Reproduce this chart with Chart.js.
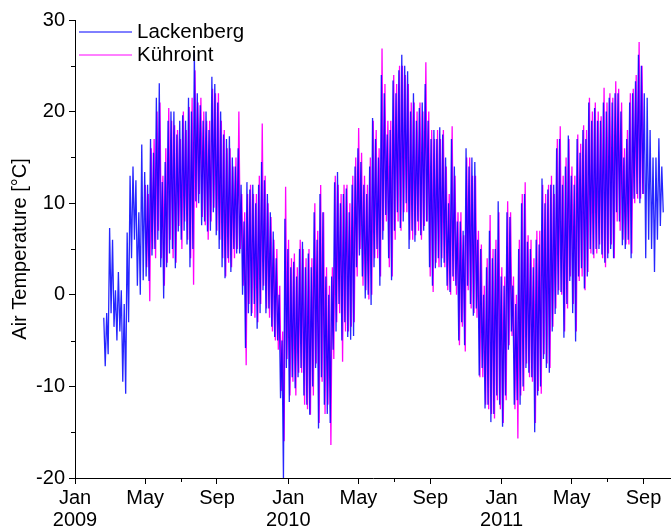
<!DOCTYPE html>
<html>
<head>
<meta charset="utf-8">
<script src="https://cdn.jsdelivr.net/npm/chart.js@4.4.1/dist/chart.umd.min.js"></script>
<style>
  html, body { margin: 0; padding: 0; background: #fff; }
  #wrap { width: 671px; height: 529px; position: relative; }
</style>
</head>
<body>
<div id="wrap"><canvas id="c" width="671" height="529"></canvas></div>
<script>
// Air temperature at two stations, 5-day highs and lows (°C)
const seriesNames = ['Lackenberg', 'Kühroint'];
const pentadLength = 5; // days per high/low pair

const lackenbergStart = '2009-02-18';
const lackenbergHigh = [
  -2.5, -2.0, 7.3, 6.0, 0.5, 2.5, 0.5, -1.0, 6.8, 13.0,
  14.0, 12.5, 9.0, 16.4, 13.4, 12.0, 17.0, 15.5, 21.5, 23.1,
  12.3, 14.5, 19.0, 20.0, 20.0, 17.5, 19.0, 19.6, 19.0, 21.5,
  20.0, 26.5, 22.0, 20.7, 19.0, 20.0, 18.0, 23.8, 23.0, 21.0,
  20.0, 17.5, 17.0, 17.3, 15.0, 14.0, 16.0, 12.0, 8.0, 12.3,
  11.5, 12.0, 10.0, 12.0, 14.5, 12.5, 11.0, 9.0, 6.9, 4.0,
  0.0, -5.0, 8.3, 5.0, 3.0, 3.6, 2.0, 5.0, 5.8, 3.0,
  4.5, 3.0, 9.0, 6.0, 11.0, 9.0, 2.0, 0.0, 2.0, 12.3,
  13.4, 10.0, 11.0, 11.6, 9.0, 12.0, 14.0, 16.0, 14.5, 12.0,
  11.0, 14.0, 19.3, 17.0, 15.0, 24.0, 22.0, 17.5, 18.0, 23.4,
  22.0, 24.5, 26.2, 25.0, 24.4, 20.0, 22.0, 19.0, 20.4, 21.0,
  23.0, 19.0, 17.0, 18.0, 17.0, 18.3, 17.5, 15.0, 10.0, 17.0,
  14.0, 8.0, 8.0, 7.0, 16.0, 14.0, 15.0, 14.5, 6.0, 5.0,
  0.0, 3.0, 7.0, 4.0, 5.0, 10.2, 2.0, 1.0, 9.0, 8.5,
  1.0, -1.0, 5.0, 10.0, 11.0, 5.8, 5.0, 3.0, 6.0, 5.5,
  12.7, 10.0, 11.5, 12.0, 12.0, 16.0, 17.0, 12.0, 14.0, 17.4,
  13.0, 12.0, 17.0, 15.5, 18.0, 17.0, 21.0, 19.0, 20.4, 19.0,
  19.0, 21.0, 20.0, 21.5, 21.0, 22.0, 22.0, 20.0, 15.0, 17.0,
  21.0, 22.0, 23.3, 26.2, 25.0, 22.0, 21.5, 18.0, 15.0, 15.0,
  17.1, 14.0
];
const lackenbergLow = [
  -7.8, -6.5, -2.0, -3.5, -5.0, -4.0, -9.5, -10.8, -3.0, 4.0,
  6.0, 1.0, 0.0, 1.6, 2.0, 1.5, 4.3, 5.0, 6.0, 3.0,
  -0.4, 3.0, 4.5, 5.0, 2.9, 6.9, 6.0, 7.0, 5.5, 3.0,
  5.0, 10.2, 10.0, 7.6, 8.0, 6.9, 7.0, 9.0, 6.5, 5.0,
  3.0, 1.8, 4.0, 2.5, 5.0, 4.5, 4.5, 0.0, -5.8, -2.0,
  -2.3, -1.0, -3.7, -2.0, 0.5, -2.0, -1.5, -3.5, -4.6, -5.0,
  -11.3, -20.0, -8.0, -11.7, -9.0, -10.2, -9.0, -8.0, -11.0, -12.0,
  -13.1, -10.0, -8.0, -14.6, -9.0, -12.0, -13.0, -14.0, -6.0, -4.0,
  -1.0, -5.0, -3.0, -4.6, -4.9, -4.5, 3.0, 4.3, 2.0, -0.4,
  0.0, -1.1, 3.0, 5.0, 1.0, 6.0, 8.7, 4.0, 1.6, 7.0,
  9.0, 7.3, 8.0, 10.0, 5.0, 7.0, 5.8, 8.0, 6.5, 7.0,
  8.0, 3.0, 1.0, 2.9, 4.0, 3.0, 3.5, 1.0, 0.3, 2.0,
  1.0, -5.0, -3.0, -5.5, 1.0, -1.0, -2.3, -1.5, -8.8, -8.0,
  -12.4, -12.0, -13.9, -13.0, -11.0, -12.0, -14.4, -11.0, -6.0, -4.0,
  -12.0, -11.5, -12.0, -10.0, -8.0, -8.5, -9.0, -15.0, -11.0, -10.0,
  -7.0, -8.0, -8.5, -4.0, -2.1, 0.0, 0.3, -4.7, -1.0, 1.5,
  -2.0, -5.1, 2.0, 2.9, 0.7, 2.0, 5.0, 4.4, 5.0, 5.0,
  4.4, 3.5, 4.0, 5.0, 4.0, 9.0, 8.0, 5.4, 5.0, 6.0,
  4.0, 10.5, 11.0, 10.0, 11.0, 4.0, 6.0, 5.0, 2.5, 6.0,
  7.5, 9.0
];

const kuehrointStart = '2009-04-29';
const kuehrointHigh = [
  12.0, 11.0, 16.0, 17.0, 20.0, 21.0, 13.0, 16.0, 20.4, 19.0,
  18.5, 18.0, 17.0, 20.0, 18.0, 20.5, 21.5, 24.5, 21.0, 21.5,
  20.0, 19.0, 19.0, 22.5, 22.0, 22.0, 19.0, 18.0, 16.0, 16.0,
  14.0, 15.0, 20.0, 11.0, 9.0, 11.0, 12.0, 11.0, 11.0, 13.0,
  18.7, 13.0, 10.0, 8.5, 6.0, 5.0, 1.0, -4.0, 11.8, 6.0,
  4.0, 4.5, 3.0, 6.0, 5.0, 4.0, 5.0, 4.0, 10.0, 7.0,
  12.0, 9.0, 3.0, 1.0, 3.0, 13.0, 12.0, 11.0, 12.0, 12.0,
  10.0, 13.0, 15.0, 18.2, 15.5, 13.0, 12.0, 15.0, 19.0, 18.0,
  16.0, 26.9, 23.0, 19.0, 19.0, 24.0, 23.0, 25.0, 25.0, 24.0,
  23.0, 21.0, 21.0, 20.0, 21.0, 20.0, 25.4, 20.0, 18.0, 17.0,
  18.0, 17.0, 18.0, 14.0, 11.0, 18.4, 13.0, 9.0, 9.0, 6.5,
  15.0, 15.0, 13.0, 13.0, 7.0, 5.5, 1.0, 4.0, 8.7, 5.0,
  6.0, 9.0, 3.0, 2.0, 10.2, 9.0, 2.0, 0.0, 6.0, 11.0,
  12.3, 6.5, 6.0, 4.0, 7.0, 7.0, 12.0, 11.0, 12.0, 13.0,
  11.0, 17.0, 18.4, 13.0, 15.0, 17.0, 14.0, 13.0, 17.5, 16.5,
  18.5, 18.0, 21.5, 20.0, 21.0, 20.0, 19.5, 22.6, 21.0, 22.0,
  21.5, 23.3, 22.5, 21.0, 16.0, 18.0, 22.0, 22.5, 24.0, 27.6,
  25.0
];
const kuehrointLow = [
  3.0, -0.7, 5.0, 4.0, 7.0, 4.0, 1.0, 3.5, 6.0, 4.0,
  3.5, 7.5, 5.0, 8.0, 6.0, 4.0, 1.1, 9.5, 11.0, 8.5,
  7.6, 6.0, 8.0, 9.5, 7.0, 6.0, 4.0, 2.0, 3.5, 3.0,
  4.0, 5.0, 5.0, 1.0, -7.7, -1.0, -2.0, -2.5, -3.0, -1.0,
  1.0, -1.5, -2.5, -4.0, -5.0, -6.0, -10.5, -16.0, -7.0, -11.0,
  -9.5, -11.0, -8.5, -8.5, -12.0, -12.5, -13.1, -11.0, -7.5, -14.0,
  -9.5, -13.0, -12.0, -16.4, -7.0, -3.0, -2.0, -7.3, -4.0, -4.0,
  -3.5, -3.0, 2.0, 5.0, 1.0, 0.5, -0.5, 0.0, 4.0, 4.0,
  2.0, 7.0, 8.0, 3.0, 2.0, 6.0, 8.0, 7.0, 9.0, 9.0,
  6.0, 6.0, 6.5, 7.0, 6.0, 7.5, 8.0, 2.0, 0.3, 3.5,
  3.0, 4.0, 3.0, 0.5, 0.0, 1.5, 0.0, -5.5, -3.5, -6.2,
  0.5, -1.5, -2.0, -2.5, -9.0, -9.0, -12.0, -12.5, -13.0, -13.5,
  -11.5, -12.5, -14.0, -11.5, -5.5, -4.5, -12.5, -15.7, -11.0, -10.5,
  -7.5, -9.0, -9.5, -14.0, -10.5, -10.8, -6.5, -7.5, -8.0, -3.5,
  -1.5, 0.5, 0.0, -4.0, -1.5, 2.0, -1.0, -4.0, 1.5, 2.0,
  0.5, 2.5, 4.5, 4.0, 4.5, 5.5, 4.0, 3.0, 4.5, 5.5,
  4.0, 8.0, 7.0, 6.0, 5.5, 5.5, 4.5, 10.0, 10.5, 10.5,
  11.0
];

// Axis ticks
const axisStart = '2009-01-01';
const axisEnd = '2011-10-18';
const xTickDates = ['2009-01-01', '2009-05-01', '2009-09-01', '2010-01-01', '2010-05-01',
                    '2010-09-01', '2011-01-01', '2011-05-01', '2011-09-01'];
const xTickLabels = [['Jan', '2009'], 'May', 'Sep', ['Jan', '2010'], 'May', 'Sep',
                     ['Jan', '2011'], 'May', 'Sep'];
const xMinorTickDates = ['2009-07-01', '2010-07-01', '2011-07-01'];
const yMin = -20, yMax = 30, yStep = 10;
const yMinorTicks = [-15, -5, 5, 15, 25];
const yTitle = 'Air Temperature [°C]';

function dayOf(s) {
  const [y, m, d] = s.split('-').map(Number);
  const [y0, m0, d0] = axisStart.split('-').map(Number);
  return (Date.UTC(y, m - 1, d) - Date.UTC(y0, m0 - 1, d0)) / 86400000;
}

// each pentad contributes its high then its low, giving the daily-swing zigzag;
// phase shifts the pair inside the pentad so the two stations interleave
function buildSeries(start, highs, lows, phase) {
  const d0 = dayOf(start);
  const pts = [];
  highs.forEach((h, i) => {
    const d = d0 + i * pentadLength + phase;
    pts.push({ x: d + pentadLength * 0.25, y: h });
    pts.push({ x: d + pentadLength * 0.75, y: lows[i] });
  });
  return pts;
}

const FONT = 'Liberation Sans, Arial, Helvetica, sans-serif';
Chart.defaults.font.family = FONT;
Chart.defaults.font.size = 20;
Chart.defaults.color = '#000';

const xTickDays = xTickDates.map(dayOf);

// small ticks between the labelled ones
const minorTicks = {
  id: 'minorTicks',
  afterDraw(chart) {
    const { ctx } = chart;
    const xs = chart.scales.x, ys = chart.scales.y;
    ctx.save();
    ctx.strokeStyle = '#000';
    ctx.lineWidth = 1;
    ctx.beginPath();
    yMinorTicks.forEach(v => {
      const py = Math.round(ys.getPixelForValue(v)) + 0.5;
      ctx.moveTo(xs.left - 4, py);
      ctx.lineTo(xs.left, py);
    });
    xMinorTickDates.forEach(s => {
      const px = Math.round(xs.getPixelForValue(dayOf(s))) + 0.5;
      ctx.moveTo(px, ys.bottom);
      ctx.lineTo(px, ys.bottom + 4);
    });
    ctx.stroke();
    ctx.restore();
  }
};

// legend with line samples in the upper-left corner of the plot
const lineLegend = {
  id: 'lineLegend',
  afterDatasetsDraw(chart) {
    const { ctx, chartArea } = chart;
    ctx.save();
    ctx.font = '20.5px ' + FONT;
    ctx.textBaseline = 'middle';
    ctx.fillStyle = '#000';
    chart.data.datasets.forEach((ds, i) => {
      const y = chartArea.top + 12 + i * 23;
      ctx.strokeStyle = ds.legendColor;
      ctx.lineWidth = 1;
      ctx.beginPath();
      ctx.moveTo(chartArea.left + 4, y);
      ctx.lineTo(chartArea.left + 57, y);
      ctx.stroke();
      ctx.fillText(ds.label, chartArea.left + 62, y);
    });
    ctx.restore();
  }
};

new Chart(document.getElementById('c'), {
  type: 'line',
  data: {
    datasets: [
      { label: seriesNames[0], data: buildSeries(lackenbergStart, lackenbergHigh, lackenbergLow, 0),
        borderColor: 'rgba(0,0,255,0.85)', legendColor: '#0000ff', borderWidth: 1.3 },
      { label: seriesNames[1], data: buildSeries(kuehrointStart, kuehrointHigh, kuehrointLow, 1.2),
        borderColor: '#ff00ff', legendColor: '#ff00ff', borderWidth: 1.3 }
    ]
  },
  options: {
    responsive: false,
    animation: false,
    parsing: false,
    normalized: true,
    elements: { point: { radius: 0 }, line: { tension: 0 } },
    layout: { padding: { top: 20, right: 0, left: 0, bottom: 0 } },
    plugins: { legend: { display: false }, tooltip: { enabled: false } },
    scales: {
      x: {
        type: 'linear',
        min: dayOf(axisStart),
        max: dayOf(axisEnd),
        afterBuildTicks(scale) { scale.ticks = xTickDays.map(v => ({ value: v })); },
        afterFit(scale) { scale.height = 51; },
        ticks: {
          autoSkip: false,
          maxRotation: 0,
          padding: 3,
          font: { size: 20, lineHeight: 1.1 },
          callback(value) {
            const i = xTickDays.indexOf(value);
            return i >= 0 ? xTickLabels[i] : '';
          }
        },
        grid: { display: true, drawOnChartArea: false, drawTicks: true, tickLength: 6, color: '#000' },
        border: { display: true, color: '#000', width: 1 }
      },
      y: {
        min: yMin,
        max: yMax,
        afterFit(scale) { scale.width = 75; },
        ticks: { stepSize: yStep, padding: 4, font: { size: 20 } },
        grid: { display: true, drawOnChartArea: false, drawTicks: true, tickLength: 6, color: '#000' },
        border: { display: true, color: '#000', width: 1 },
        title: { display: true, text: yTitle, font: { size: 20 }, padding: { top: 8, bottom: 0 } }
      }
    }
  },
  plugins: [minorTicks, lineLegend]
});
</script>
</body>
</html>
